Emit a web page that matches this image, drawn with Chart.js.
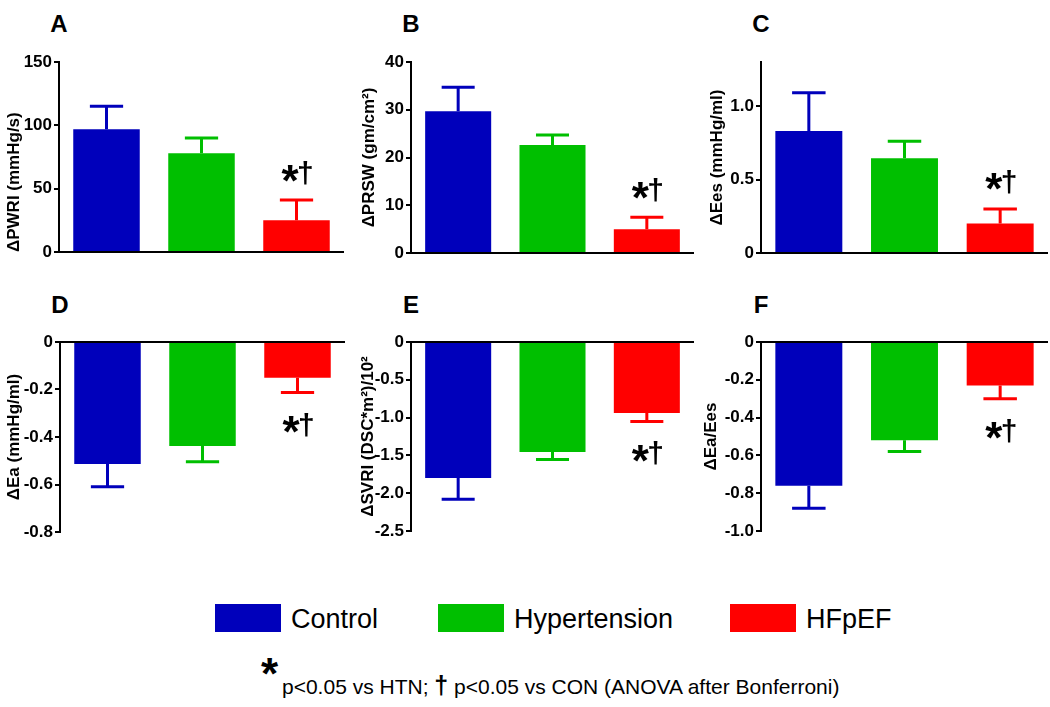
<!DOCTYPE html>
<html>
<head>
<meta charset="utf-8">
<script src="https://cdn.jsdelivr.net/npm/chart.js@4.4.1/dist/chart.umd.min.js"></script>
<style>
  body { margin: 0; background: #fff; width: 1050px; height: 707px; position: relative; overflow: hidden;
         font-family: "Liberation Sans", Arial, sans-serif; color: #000; }
  canvas { position: absolute; }
  .letter { position: absolute; width: 40px; text-align: center; font-weight: bold; font-size: 24px; line-height: 24px; }
  .box { position: absolute; width: 66px; height: 28px; }
  .legtext { position: absolute; font-size: 27px; line-height: 27px; white-space: nowrap; }
  #note { position: absolute; left: 282px; top: 676px; font-size: 21px; line-height: 21px; white-space: nowrap; }
  #note .dag { font-weight: bold; font-size: 25px; line-height: 0; }
  #bigstar { position: absolute; left: 261px; top: 652px; font-size: 44px; line-height: 44px; font-weight: bold; }
</style>
</head>
<body>
<div id="bigstar">*</div>
<div id="note">p&lt;0.05 vs HTN; <span class="dag">†</span> p&lt;0.05 vs CON (ANOVA after Bonferroni)</div>
<script>
const categories = ["Control", "Hypertension", "HFpEF"];
const barColors = ["#0000BB", "#00BF00", "#FF0000"];

// A: ΔPWRI
const pwri = [97, 78, 25];
const pwriErr = [18, 12, 16];
const pwriTicks = [0, 50, 100, 150];
const pwriTickLabels = ["0", "50", "100", "150"];

// B: ΔPRSW
const prsw = [29.7, 22.6, 5.0];
const prswErr = [5.0, 2.1, 2.5];
const prswTicks = [0, 10, 20, 30, 40];
const prswTickLabels = ["0", "10", "20", "30", "40"];

// C: ΔEes
const ees = [0.83, 0.645, 0.2];
const eesErr = [0.26, 0.115, 0.1];
const eesTicks = [0, 0.5, 1.0];
const eesTickLabels = ["0", "0.5", "1.0"];

// D: ΔEa
const ea = [-0.514, -0.438, -0.15];
const eaErr = [0.095, 0.066, 0.063];
const eaTicks = [0, -0.2, -0.4, -0.6, -0.8];
const eaTickLabels = ["0", "-0.2", "-0.4", "-0.6", "-0.8"];

// E: ΔSVRI
const svri = [-1.8, -1.455, -0.94];
const svriErr = [0.28, 0.1, 0.11];
const svriTicks = [0, -0.5, -1.0, -1.5, -2.0, -2.5];
const svriTickLabels = ["0", "-0.5", "-1.0", "-1.5", "-2.0", "-2.5"];

// F: ΔEa/Ees
const eaEes = [-0.76, -0.52, -0.23];
const eaEesErr = [0.12, 0.06, 0.07];
const eaEesTicks = [0, -0.2, -0.4, -0.6, -0.8, -1.0];
const eaEesTickLabels = ["0", "-0.2", "-0.4", "-0.6", "-0.8", "-1.0"];

const panels = [
  {letter: "A", values: pwri, errors: pwriErr, ticks: pwriTicks, tickLabels: pwriTickLabels, min: 0, max: 150,
   title: "ΔPWRI (mmHg/s)", axisX: 59, top: 62, bottom: 252, right: 344, titlePad: 5, titleAlign: "start", letterTop: 12},
  {letter: "B", values: prsw, errors: prswErr, ticks: prswTicks, tickLabels: prswTickLabels, min: 0, max: 40,
   title: "ΔPRSW (gm/cm²)", axisX: 411, top: 62, bottom: 253, right: 694, titlePad: 8, letterTop: 12},
  {letter: "C", values: ees, errors: eesErr, ticks: eesTicks, tickLabels: eesTickLabels, min: 0, max: 1.3,
   title: "ΔEes (mmHg/ml)", axisX: 761, top: 62, bottom: 253, right: 1048, titlePad: 6, letterTop: 12},
  {letter: "D", values: ea, errors: eaErr, ticks: eaTicks, tickLabels: eaTickLabels, min: -0.8, max: 0,
   title: "ΔEa (mmHg/ml)", axisX: 60, top: 342, bottom: 532, right: 345, titlePad: 4, letterTop: 293},
  {letter: "E", values: svri, errors: svriErr, ticks: svriTicks, tickLabels: svriTickLabels, min: -2.5, max: 0,
   title: "ΔSVRI (DSC*m²)/10²", axisX: 411, top: 342, bottom: 531, right: 694, titlePad: 7, letterTop: 293},
  {letter: "F", values: eaEes, errors: eaEesErr, ticks: eaEesTicks, tickLabels: eaEesTickLabels, min: -1.0, max: 0,
   title: "ΔEa/Ees", axisX: 761, top: 342, bottom: 531, right: 1048, titlePad: 0, letterTop: 293}
];

const FONT = '"Liberation Sans", Arial, sans-serif';
Chart.defaults.font.family = FONT;
Chart.defaults.color = "#000";

// error bars: stem plus cap, drawn in the bar colour
const errorBars = {
  id: "errorBars",
  afterDatasetsDraw(chart) {
    const ctx = chart.ctx, y = chart.scales.y;
    const ds = chart.data.datasets[0];
    chart.getDatasetMeta(0).data.forEach((bar, i) => {
      const v = ds.data[i], e = ds.errors[i];
      const end = y.getPixelForValue(v >= 0 ? v + e : v - e);
      const half = bar.width / 4;
      ctx.save();
      ctx.strokeStyle = barColors[i];
      ctx.lineWidth = 3;
      ctx.beginPath();
      ctx.moveTo(bar.x, bar.y);
      ctx.lineTo(bar.x, end);
      ctx.moveTo(bar.x - half, end);
      ctx.lineTo(bar.x + half, end);
      ctx.stroke();
      ctx.restore();
    });
  }
};

function drawCentered(ctx, ch, font, cx, cy) {
  ctx.font = font;
  const m = ctx.measureText(ch);
  const x = cx - (m.actualBoundingBoxRight - m.actualBoundingBoxLeft) / 2;
  const base = cy + (m.actualBoundingBoxAscent - m.actualBoundingBoxDescent) / 2;
  ctx.fillText(ch, x, base);
}

// "*†" significance mark next to the HFpEF bar
const sigMarks = {
  id: "sigMarks",
  afterDatasetsDraw(chart) {
    const ctx = chart.ctx, y = chart.scales.y;
    const ds = chart.data.datasets[0];
    const bar = chart.getDatasetMeta(0).data[2];
    const v = ds.data[2], e = ds.errors[2];
    const end = y.getPixelForValue(v >= 0 ? v + e : v - e);
    const cy = v >= 0 ? end - 27 : end + 32;
    ctx.save();
    ctx.fillStyle = "#000";
    ctx.textAlign = "left";
    ctx.textBaseline = "alphabetic";
    drawCentered(ctx, "*", "bold 44px " + FONT, bar.x - 6, cy);
    drawCentered(ctx, "†", "bold 30px " + FONT, bar.x + 9, cy);
    ctx.restore();
  }
};

panels.forEach(p => {
  const canvas = document.createElement("canvas");
  const left = p.axisX - 60;
  canvas.width = p.right - left;
  canvas.height = p.bottom - p.top + 30;
  canvas.style.left = left + "px";
  canvas.style.top = (p.top - 15) + "px";
  document.body.appendChild(canvas);

  const letter = document.createElement("div");
  letter.className = "letter";
  letter.textContent = p.letter;
  letter.style.left = (p.axisX - 20) + "px";
  letter.style.top = p.letterTop + "px";
  document.body.appendChild(letter);

  const negative = p.max <= 0;
  new Chart(canvas, {
    type: "bar",
    data: {
      labels: categories,
      datasets: [{
        data: p.values,
        errors: p.errors,
        backgroundColor: barColors,
        barPercentage: 0.7,
        categoryPercentage: 1
      }]
    },
    options: {
      responsive: false,
      animation: false,
      layout: {padding: {top: 15, bottom: 15, left: 0, right: 0}},
      plugins: {
        legend: {display: false},
        tooltip: {enabled: false}
      },
      scales: {
        x: {
          position: negative ? "top" : "bottom",
          grid: {display: false},
          ticks: {display: false},
          border: {display: true, color: "#000", width: 2},
          afterFit: s => { s.height = 0; }
        },
        y: {
          min: p.min,
          max: p.max,
          afterFit: s => { s.width = 60; },
          afterBuildTicks: s => { s.ticks = p.ticks.map(v => ({value: v})); },
          ticks: {
            callback: (v, i) => p.tickLabels[i],
            color: "#000",
            font: {size: 17, weight: "bold"},
            padding: 2,
            autoSkip: false
          },
          grid: {drawOnChartArea: false, drawTicks: true, tickLength: 5, color: "#000", lineWidth: 2},
          border: {display: true, color: "#000", width: 2},
          title: {
            display: true,
            text: p.title,
            color: "#000",
            font: {size: 17, weight: "bold"},
            padding: {top: p.titlePad, bottom: 0},
            align: p.titleAlign || "center"
          }
        }
      }
    },
    plugins: [errorBars, sigMarks]
  });
});

// legend below the panels
const legendBoxX = [215, 438, 730];
categories.forEach((c, i) => {
  const box = document.createElement("div");
  box.className = "box";
  box.style.left = legendBoxX[i] + "px";
  box.style.top = "604px";
  box.style.background = barColors[i];
  document.body.appendChild(box);
  const t = document.createElement("div");
  t.className = "legtext";
  t.textContent = c;
  t.style.left = (legendBoxX[i] + 76) + "px";
  t.style.top = "606px";
  document.body.appendChild(t);
});
</script>
</body>
</html>
